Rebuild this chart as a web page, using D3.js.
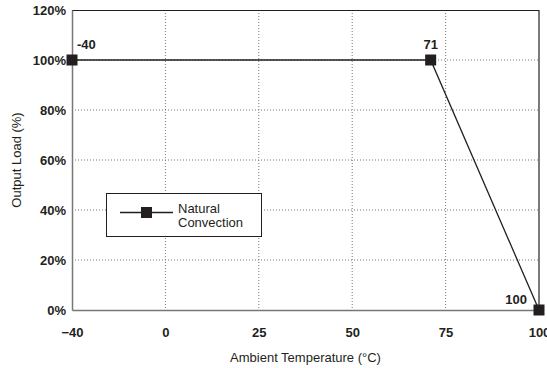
<!DOCTYPE html>
<html>
<head>
<meta charset="utf-8">
<title>Output Load vs Ambient Temperature</title>
<script src="https://d3js.org/d3.v7.min.js"></script>
<style>
    body { margin: 0; background: #fff; }
    svg { font-family: Arial, "Liberation Sans", sans-serif; }
</style>
</head>
<body>
<svg id="chart" width="547" height="368"></svg>
<script>
// data
var temps = [-40, 71, 100];
var loads = [100, 100, 0];
var pointLabels = ['-40', '71', '100'];
var xTicks = [-40, 0, 25, 50, 75, 100];
var yTicks = [0, 20, 40, 60, 80, 100, 120];
var seriesName = ['Natural', 'Convection'];

var margin = {top: 10, right: 8, bottom: 58, left: 72};
var svg = d3.select('#chart');
var width = +svg.attr('width') - margin.left - margin.right;
var height = +svg.attr('height') - margin.top - margin.bottom;
var g = svg.append('g')
    .attr('transform', 'translate(' + margin.left + ',' + margin.top + ')');

// x ticks are evenly spaced even though the values are not
var x = d3.scaleLinear()
    .domain(xTicks)
    .range(xTicks.map((d, i) => i * width / (xTicks.length - 1)));
var y = d3.scaleLinear().domain([0, 120]).range([height, 0]);

var ink = '#231f20';
var fs = 13;

//gridlines
g.selectAll('.vgrid').data(xTicks.slice(1, -1)).enter().append('line')
    .attr('x1', d => x(d)).attr('x2', d => x(d))
    .attr('y1', 0).attr('y2', height)
    .attr('stroke', '#777').attr('stroke-dasharray', '1,2');
g.selectAll('.hgrid').data(yTicks.slice(1, -1)).enter().append('line')
    .attr('x1', 0).attr('x2', width)
    .attr('y1', d => y(d)).attr('y2', d => y(d))
    .attr('stroke', '#777').attr('stroke-dasharray', '1,2');

// frame: dark top/right, grey axes
g.append('line').attr('x1', 0).attr('x2', width).attr('y1', 0.5).attr('y2', 0.5)
    .attr('stroke', ink).attr('stroke-width', 1.2);
g.append('line').attr('x1', width).attr('x2', width).attr('y1', 0).attr('y2', height)
    .attr('stroke', ink).attr('stroke-width', 1.2);

// axes
var xAxis = g.append('g')
    .attr('transform', 'translate(0,' + height + ')')
    .call(d3.axisBottom(x).tickValues(xTicks).tickSize(0).tickPadding(18).tickFormat(d3.format('d')));
var yAxis = g.append('g')
    .call(d3.axisLeft(y).tickValues(yTicks).tickSize(0).tickPadding(6).tickFormat(d => d + '%'));
[xAxis, yAxis].forEach(function (a) {
    a.select('.domain').attr('stroke', '#777').attr('stroke-width', 1.5);
    a.selectAll('text')
        .attr('fill', ink)
        .attr('font-size', fs)
        .attr('font-weight', 'bold')
        .attr('font-family', 'Arial, "Liberation Sans", sans-serif');
});

// axis titles
svg.append('text')
    .attr('text-anchor', 'middle')
    .attr('x', margin.left + width / 2)
    .attr('y', 362)
    .attr('font-size', fs)
    .attr('fill', ink)
    .text('Ambient Temperature (°C)');
svg.append('text')
    .attr('text-anchor', 'middle')
    .attr('transform', 'rotate(-90)')
    .attr('x', -(margin.top + height / 2))
    .attr('y', 21)
    .attr('font-size', fs)
    .attr('fill', ink)
    .text('Output Load (%)');

// line
var data = temps.map((t, i) => ({t: t, v: loads[i], label: pointLabels[i]}));
g.append('path')
    .datum(data)
    .attr('fill', 'none')
    .attr('stroke', ink)
    .attr('stroke-width', 1.3)
    .attr('d', d3.line().x(d => x(d.t)).y(d => y(d.v)));

var s = 11;
g.selectAll('rect.pt').data(data).enter().append('rect')
    .attr('x', d => x(d.t) - s / 2)
    .attr('y', d => y(d.v) - s / 2)
    .attr('width', s).attr('height', s)
    .attr('fill', ink);

// point labels
var offsets = [[5, -11, 'start'], [0, -11, 'middle'], [-12, -6, 'end']];
g.selectAll('text.pt').data(data).enter().append('text')
    .attr('x', (d, i) => x(d.t) + offsets[i][0])
    .attr('y', (d, i) => y(d.v) + offsets[i][1])
    .attr('text-anchor', (d, i) => offsets[i][2])
    .attr('font-size', fs)
    .attr('font-weight', 'bold')
    .attr('fill', ink)
    .text(d => d.label);

// legend
var leg = svg.append('g').attr('transform', 'translate(106,193)');
leg.append('rect')
    .attr('x', 0.5).attr('y', 0.5).attr('width', 155).attr('height', 43)
    .attr('fill', '#fff').attr('stroke', ink).attr('stroke-width', 1);
leg.append('line').attr('x1', 14).attr('x2', 67).attr('y1', 19.5).attr('y2', 19.5)
    .attr('stroke', ink).attr('stroke-width', 1.3);
leg.append('rect').attr('x', 35).attr('y', 14).attr('width', s).attr('height', s).attr('fill', ink);
leg.selectAll('text.lg').data(seriesName).enter().append('text')
    .attr('x', 72)
    .attr('y', (d, i) => 20 + i * 14)
    .attr('font-size', fs)
    .attr('fill', ink)
    .text(d => d);
</script>
</body>
</html>
